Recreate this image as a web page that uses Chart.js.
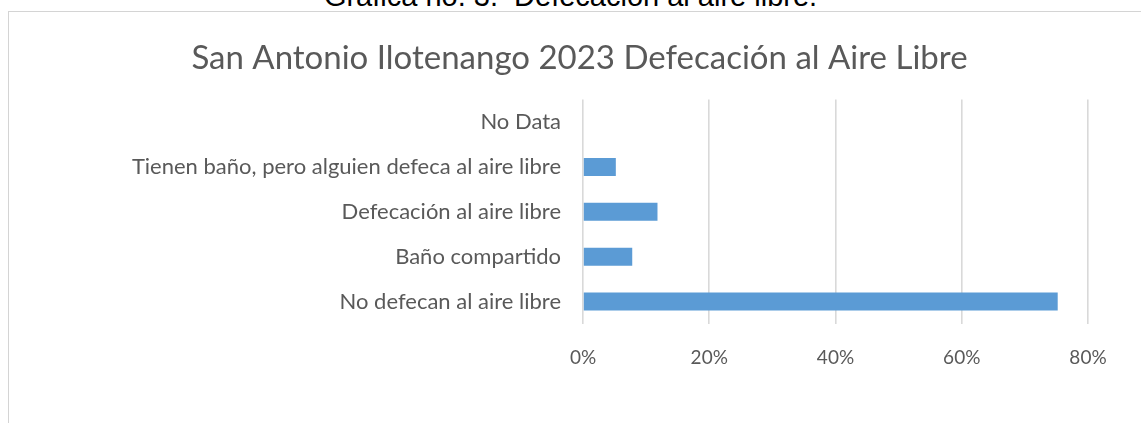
<!DOCTYPE html>
<html>
<head>
<meta charset="utf-8">
<script src="https://cdn.jsdelivr.net/npm/chart.js@4.4.0/dist/chart.umd.min.js"></script>
<style>
    html, body {
        margin: 0;
        padding: 0;
        width: 1141px;
        height: 423px;
        overflow: hidden;
        background: #ffffff;
    }
    .caption {
        position: absolute;
        left: 0;
        width: 1141px;
        top: -20px;
        text-align: center;
        font-family: "Liberation Sans", Arial, sans-serif;
        font-size: 29px;
        line-height: 32px;
        color: #000000;
        white-space: pre;
    }
    .frame {
        position: absolute;
        left: 8px;
        top: 11px;
        width: 1150px;
        height: 440px;
        border-left: 1px solid #d4d4d4;
        border-top: 1px solid #d4d4d4;
    }
    .chart-box {
        position: absolute;
        left: 0;
        top: 0;
        width: 1141px;
        height: 430px;
    }
</style>
</head>
<body>
<div class="caption">Gráfica no. 3.  Defecación al aire libre.</div>
<div class="frame">
    <div class="chart-box"><canvas id="sanitationChart"></canvas></div>
</div>
<script>
// Chart data
const chartTitle = 'San Antonio Ilotenango 2023 Defecación al Aire Libre';
const categories = [
    'No Data',
    'Tienen baño, pero alguien defeca al aire libre',
    'Defecación al aire libre',
    'Baño compartido',
    'No defecan al aire libre'
];
const percentValues = [0, 5.2, 11.8, 7.8, 75.2];
const axisTicks = [0, 20, 40, 60, 80];

const textColor = '#595959';
const gridColor = '#d9d9d9';
const barColor = '#5b9bd5';

function initializeSanitationChart() {
    const canvas = document.getElementById('sanitationChart');
    if (!canvas) {
        console.error('Chart canvas not found');
        return;
    }

    new Chart(canvas.getContext('2d'), {
        type: 'bar',
        data: {
            labels: categories,
            datasets: [{
                data: percentValues,
                backgroundColor: barColor,
                borderWidth: 0,
                barPercentage: 0.4,
                categoryPercentage: 1.0
            }]
        },
        options: {
            indexAxis: 'y',
            responsive: true,
            maintainAspectRatio: false,
            animation: false,
            layout: {
                padding: 0
            },
            plugins: {
                legend: { display: false },
                tooltip: { enabled: false },
                title: {
                    display: true,
                    text: chartTitle,
                    color: textColor,
                    font: { family: 'Lato', size: 33, weight: 'normal' },
                    padding: { top: 27, bottom: 21 }
                }
            },
            scales: {
                x: {
                    min: 0,
                    max: 80,
                    afterBuildTicks: function(scale) {
                        scale.ticks = axisTicks.map(v => ({ value: v }));
                    },
                    afterFit: function(scale) {
                        scale.height = 118;
                    },
                    grid: {
                        color: gridColor,
                        lineWidth: 1.6,
                        drawTicks: false
                    },
                    border: { display: false },
                    ticks: {
                        color: textColor,
                        padding: 22,
                        font: { family: 'Lato', size: 19 },
                        callback: v => v + '%'
                    }
                },
                y: {
                    afterFit: function(scale) {
                        scale.width = 574;
                    },
                    grid: { display: false, drawTicks: false },
                    border: { display: false },
                    ticks: {
                        color: textColor,
                        padding: 22,
                        font: { family: 'Lato', size: 22 }
                    }
                },
                // empty right-hand axis, only reserves the margin right of the plot
                yRight: {
                    type: 'category',
                    position: 'right',
                    afterFit: function(scale) {
                        scale.width = 62;
                    },
                    grid: { display: false, drawTicks: false },
                    border: { display: false },
                    ticks: { display: false }
                }
            }
        }
    });
}

initializeSanitationChart();
</script>
</body>
</html>
